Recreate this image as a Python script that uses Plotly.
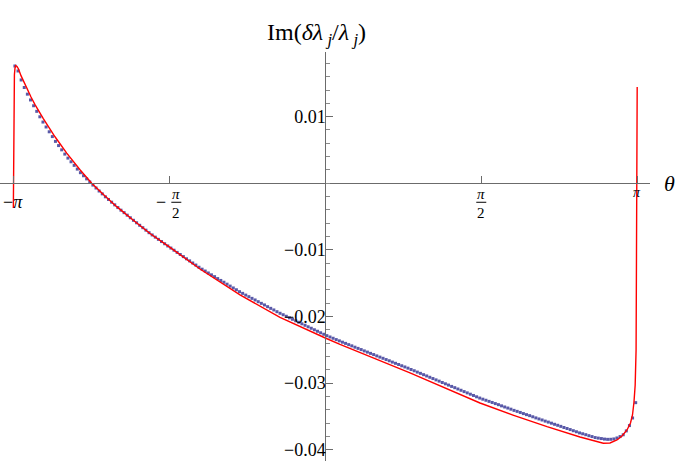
import numpy as np
import plotly.graph_objects as go

# red curve (analytic result), sampled by eye from the reference
theta_curve = [
    -3.1416, -3.1400, -3.1360, -3.1309, -3.1249, -3.1178, -3.1047, -3.0896,
    -3.0645, -3.0343, -3.0071, -2.9638, -2.9235, -2.8399, -2.7221, -2.6042,
    -2.4703, -2.3525, -2.2185, -2.1007, -1.9366, -1.7654, -1.5710, -1.2618,
    -0.8590, -0.4562, 0.0, 0.1480, 0.8530, 1.5579, 1.8902, 2.2326,
    2.5650, 2.7160, 2.7996, 2.8671, 2.9376, 2.9879, 3.0383, 3.0735,
    3.0937, 3.1088, 3.1208, 3.1299, 3.1369, 3.1410,
]
im_curve = [
    -0.00370, 0.00500, 0.01250, 0.01630, 0.01730, 0.01766, 0.01754, 0.01716,
    0.01616, 0.01514, 0.01419, 0.01296, 0.01182, 0.00970, 0.00698, 0.00452,
    0.00203, 0.0, -0.00191, -0.00351, -0.00551, -0.00754, -0.00956, -0.01287,
    -0.01677, -0.02012, -0.02323, -0.02420, -0.02848, -0.03299, -0.03480, -0.03655,
    -0.03810, -0.03877, -0.03904, -0.03899, -0.03854, -0.03794, -0.03704, -0.03599,
    -0.03479, -0.03284, -0.03030, -0.02500, -0.01000, 0.01446,
]

# numerical eigenvalue shifts (blue dots), N = 200 points on the theta grid
n_dots = 200
im_dots = [
    0.01761, 0.01686, 0.01551, 0.01438, 0.01338, 0.01251, 0.01164, 0.01080, 0.00998, 0.00919,
    0.00845, 0.00773, 0.00701, 0.00629, 0.00566, 0.00502, 0.00438, 0.00378, 0.00323, 0.00269,
    0.00213, 0.00159, 0.00113, 0.00066, 0.00020, -0.00027, -0.00071, -0.00116, -0.00159, -0.00203,
    -0.00243, -0.00284, -0.00324, -0.00365, -0.00404, -0.00441, -0.00479, -0.00518, -0.00556, -0.00593,
    -0.00631, -0.00667, -0.00704, -0.00742, -0.00776, -0.00809, -0.00842, -0.00875, -0.00908, -0.00941,
    -0.00973, -0.01005, -0.01038, -0.01069, -0.01101, -0.01134, -0.01165, -0.01197, -0.01228, -0.01261,
    -0.01290, -0.01318, -0.01347, -0.01375, -0.01402, -0.01431, -0.01459, -0.01486, -0.01515, -0.01544,
    -0.01572, -0.01599, -0.01628, -0.01653, -0.01679, -0.01703, -0.01728, -0.01752, -0.01778, -0.01803,
    -0.01827, -0.01853, -0.01878, -0.01902, -0.01928, -0.01952, -0.01974, -0.01997, -0.02020, -0.02042,
    -0.02065, -0.02087, -0.02110, -0.02132, -0.02155, -0.02177, -0.02200, -0.02222, -0.02245, -0.02267,
    -0.02288, -0.02308, -0.02327, -0.02347, -0.02366, -0.02386, -0.02404, -0.02423, -0.02441, -0.02461,
    -0.02479, -0.02497, -0.02517, -0.02535, -0.02554, -0.02572, -0.02592, -0.02610, -0.02628, -0.02647,
    -0.02665, -0.02685, -0.02703, -0.02721, -0.02740, -0.02758, -0.02776, -0.02796, -0.02815, -0.02835,
    -0.02854, -0.02874, -0.02893, -0.02913, -0.02932, -0.02952, -0.02971, -0.02991, -0.03011, -0.03030,
    -0.03050, -0.03069, -0.03089, -0.03108, -0.03128, -0.03147, -0.03167, -0.03186, -0.03206, -0.03225,
    -0.03242, -0.03258, -0.03275, -0.03291, -0.03308, -0.03324, -0.03342, -0.03359, -0.03375, -0.03392,
    -0.03410, -0.03425, -0.03441, -0.03458, -0.03474, -0.03489, -0.03506, -0.03523, -0.03539, -0.03554,
    -0.03571, -0.03586, -0.03602, -0.03619, -0.03634, -0.03650, -0.03667, -0.03682, -0.03698, -0.03715,
    -0.03731, -0.03748, -0.03761, -0.03775, -0.03790, -0.03803, -0.03818, -0.03826, -0.03833, -0.03841,
    -0.03845, -0.03844, -0.03839, -0.03824, -0.03803, -0.03776, -0.03718, -0.03638, -0.03524, -0.03294,
]
theta_dots = -np.pi + 2 * np.pi * (np.arange(n_dots) + 0.5) / n_dots

x_range = [-3.276, 3.270]
y_range = [-0.0417, 0.01971]

x_tickvals = [-np.pi, -np.pi / 2, np.pi / 2, np.pi]
x_ticklabels = ["−π", "−π/2", "π/2", "π"]
y_tickvals = [0.01, -0.01, -0.02, -0.03, -0.04]

SERIF = "Liberation Serif"
AXIS_GREY = "#6b6b6b"

fig = go.Figure()
fig.add_trace(go.Scatter(
    x=theta_dots, y=im_dots, mode="markers",
    marker=dict(color="#3d3d99", size=3, symbol="square", line=dict(width=0)),
    opacity=0.85, showlegend=False,
))
fig.add_trace(go.Scatter(
    x=theta_curve, y=im_curve, mode="lines",
    line=dict(color="#ff0000", width=1.4), showlegend=False,
))

x_pos = (0 - y_range[0]) / (y_range[1] - y_range[0])
y_pos = (0 - x_range[0]) / (x_range[1] - x_range[0])

fig.update_layout(
    width=681, height=461,
    margin=dict(l=0, r=31, t=52, b=0, autoexpand=False),
    paper_bgcolor="white", plot_bgcolor="white",
    font=dict(family=SERIF, color="black", size=18),
    xaxis=dict(
        range=x_range, anchor="free", position=x_pos, side="bottom",
        showline=True, linecolor=AXIS_GREY, linewidth=1,
        showgrid=False, zeroline=False, automargin=False,
        tickvals=x_tickvals, ticks="inside", ticklen=7, tickcolor=AXIS_GREY,
        showticklabels=False,
    ),
    yaxis=dict(
        range=y_range, anchor="free", position=y_pos, side="left",
        showline=True, linecolor=AXIS_GREY, linewidth=1,
        showgrid=False, zeroline=False, automargin=False,
        tickvals=y_tickvals, ticks="inside", ticklen=7, tickcolor=AXIS_GREY,
        tickfont=dict(family=SERIF, size=18, color="black"),
        ticklabelstandoff=-4,
        minor=dict(dtick=0.002, tick0=0, ticks="inside", ticklen=4, tickcolor="#8a8a8a"),
    ),
)

# x tick labels, Mathematica style (stacked fractions)
for val, lab in zip(x_tickvals, x_ticklabels):
    neg = lab.startswith("−")
    body = lab.lstrip("−")
    if "/" in body:
        num, den = body.split("/")
        dx = 7 if neg else 0
        fig.add_annotation(x=val, y=0, text=f"<i>{num}</i>", showarrow=False,
                           xshift=dx, yshift=-11, font=dict(size=15))
        fig.add_annotation(x=val, y=0, text=den, showarrow=False,
                           xshift=dx, yshift=-30, font=dict(size=15))
        fig.add_shape(type="line", xref="x", yref="y",
                      xsizemode="pixel", xanchor=val, x0=dx - 5, x1=dx + 5,
                      ysizemode="pixel", yanchor=0, y0=-19, y1=-19,
                      line=dict(color="black", width=1))
        if neg:
            fig.add_annotation(x=val, y=0, text="−", showarrow=False,
                               xshift=-8, yshift=-19, font=dict(size=18))
    elif neg:
        fig.add_annotation(x=val, y=0, text=f"−<i>{body}</i>", showarrow=False,
                           yshift=-19, font=dict(size=18))
    else:
        fig.add_annotation(x=val, y=0, text=f"<i>{body}</i>", showarrow=False,
                           yshift=-9, font=dict(size=14))

# axis labels
fig.add_annotation(x=0, y=1, xref="x", yref="paper", yshift=35, xshift=-9, showarrow=False,
                   text="Im(<i>δλ</i><sub> <i>j</i></sub>/<i>λ</i><sub> <i>j</i></sub>)",
                   font=dict(size=24))
fig.add_annotation(x=x_range[1], y=0, xref="x", yref="y", xanchor="left", xshift=12,
                   showarrow=False, text="<i>θ</i>", font=dict(size=22))

# the page's default body margin would offset the figure by 8px
fig.write_html("out.html", config={"displayModeBar": False},
               post_script="document.body.style.margin = '0px';")
